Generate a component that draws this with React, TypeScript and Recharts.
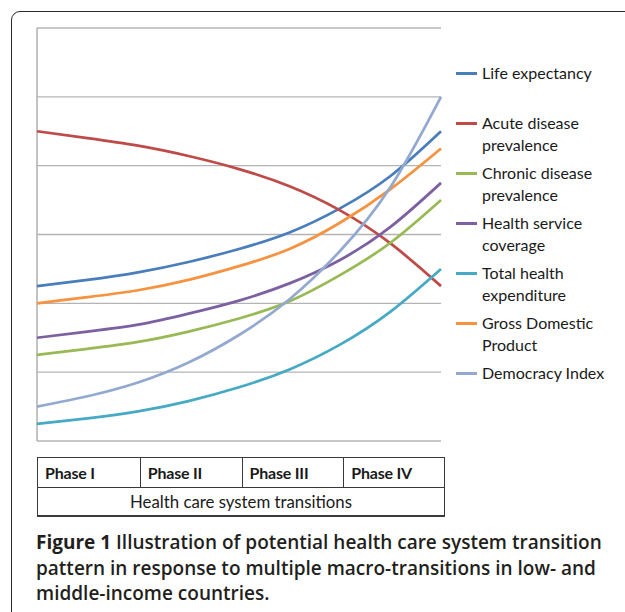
import { CartesianGrid, Line, LineChart, ReferenceLine, XAxis, YAxis } from 'recharts';

// x positions in phase units (0 = start of Phase I, 4 = end of Phase IV)
const stagePos = [0, 0.5, 1, 1.5, 2, 2.5, 3, 3.5, 4];

const lifeExpectancy = [2.25, 2.34, 2.45, 2.6, 2.79, 3.03, 3.38, 3.85, 4.5];
const acuteDisease = [4.5, 4.4, 4.29, 4.14, 3.95, 3.7, 3.35, 2.87, 2.25];
const chronicDisease = [1.25, 1.34, 1.44, 1.59, 1.78, 2.03, 2.41, 2.88, 3.5];
const serviceCoverage = [1.5, 1.59, 1.69, 1.85, 2.04, 2.29, 2.63, 3.11, 3.75];
const healthExpenditure = [0.25, 0.33, 0.43, 0.58, 0.78, 1.04, 1.4, 1.88, 2.5];
const gdp = [2.0, 2.09, 2.19, 2.34, 2.54, 2.79, 3.17, 3.66, 4.25];
const democracy = [0.5, 0.65, 0.85, 1.14, 1.54, 2.06, 2.76, 3.69, 5.0];

const gridTicks = [0, 1, 2, 3, 4, 5, 6];
const phases = ['Phase I', 'Phase II', 'Phase III', 'Phase IV'];
const axisTitle = 'Health care system transitions';

const series = [
  { key: 'life', name: 'Life expectancy', values: lifeExpectancy, color: '#4a7ebb' },
  { key: 'acute', name: 'Acute disease prevalence', values: acuteDisease, color: '#be4b48' },
  { key: 'chronic', name: 'Chronic disease prevalence', values: chronicDisease, color: '#98b954' },
  { key: 'coverage', name: 'Health service coverage', values: serviceCoverage, color: '#7d60a0' },
  { key: 'the', name: 'Total health expenditure', values: healthExpenditure, color: '#46aac5' },
  { key: 'gdp', name: 'Gross Domestic Product', values: gdp, color: '#f69240' },
  { key: 'demo', name: 'Democracy Index', values: democracy, color: '#93a9d0' },
];

const captionLead = 'Figure 1';
const captionLines = [
  'Illustration of potential health care system transition',
  'pattern in response to multiple macro-transitions in low- and',
  'middle-income countries.',
];

const data = stagePos.map((t, i) => {
  const row: Record<string, number> = { t };
  series.forEach((s) => (row[s.key] = s.values[i]));
  return row;
});

const chartFont = 'Lato, sans-serif';
const captionFont = '"Open Sans", sans-serif';

export default function App() {
  return (
    <div
      style={{
        position: 'absolute',
        left: 0,
        top: 0,
        width: 625,
        height: 612,
        overflow: 'hidden',
        background: '#fff',
        fontFamily: chartFont,
        color: '#1a1a1a',
      }}
    >
      <div
        style={{
          position: 'absolute',
          left: 11,
          top: 11,
          width: 700,
          height: 700,
          border: '1.5px solid #2a2a2a',
          borderRadius: 9,
        }}
      />
      <LineChart
        width={625}
        height={445}
        data={data}
        margin={{ top: 28, right: 184, bottom: 4, left: 37 }}
        style={{ position: 'absolute', left: 0, top: 0 }}
      >
        <CartesianGrid vertical={false} stroke="#b4b4b4" strokeWidth={1.3} />
        <XAxis dataKey="t" type="number" domain={[0, 4]} hide />
        <YAxis domain={[0, 6]} ticks={gridTicks} hide />
        <ReferenceLine x={0} stroke="#b4b4b4" strokeWidth={1.6} />
        {series.map((s) => (
          <Line
            key={s.key}
            dataKey={s.key}
            name={s.name}
            type="natural"
            stroke={s.color}
            strokeWidth={2.75}
            dot={false}
            isAnimationActive={false}
          />
        ))}
      </LineChart>

      {/* legend */}
      {series.map((s, i) => (
        <div key={s.key} style={{ position: 'absolute', left: 456, top: 62 + i * 50, width: 165 }}>
          <div
            style={{
              position: 'absolute',
              left: 0,
              top: 10,
              width: 21,
              height: 2.75,
              background: s.color,
            }}
          />
          <div
            style={{
              position: 'absolute',
              left: 26,
              top: 0,
              width: 132,
              fontSize: 16,
              lineHeight: '22px',
              color: '#1a1a1a',
            }}
          >
            {s.name}
          </div>
        </div>
      ))}

      {/* category table */}
      <div
        style={{
          position: 'absolute',
          left: 37,
          top: 457,
          width: 408,
          height: 60,
          border: '1.5px solid #3a3a3a',
          borderBottomWidth: 2,
          boxSizing: 'border-box',
        }}
      >
        {phases.map((p, i) => (
          <div
            key={p}
            style={{
              position: 'absolute',
              left: i * 101.75,
              top: 0,
              width: 101.75,
              height: 30,
              borderLeft: i > 0 ? '1.5px solid #3a3a3a' : 'none',
              borderBottom: '1.5px solid #3a3a3a',
              boxSizing: 'border-box',
              paddingLeft: 7,
              fontWeight: 700,
              fontSize: 16,
              letterSpacing: -0.2,
              lineHeight: '29px',
            }}
          >
            {p}
          </div>
        ))}
        <div
          style={{
            position: 'absolute',
            left: 0,
            top: 30,
            width: '100%',
            textAlign: 'center',
            fontSize: 16.8,
            lineHeight: '27px',
          }}
        >
          {axisTitle}
        </div>
      </div>

      {/* caption */}
      <div
        style={{
          position: 'absolute',
          left: 36,
          top: 530,
          fontFamily: captionFont,
          fontSize: 19,
          lineHeight: '25.5px',
          fontWeight: 600,
          color: '#231f20',
          whiteSpace: 'nowrap',
        }}
      >
        {captionLines.map((line, i) => (
          <div key={i}>
            {i === 0 && <span style={{ fontWeight: 700 }}>{captionLead} </span>}
            {line}
          </div>
        ))}
      </div>
    </div>
  );
}
